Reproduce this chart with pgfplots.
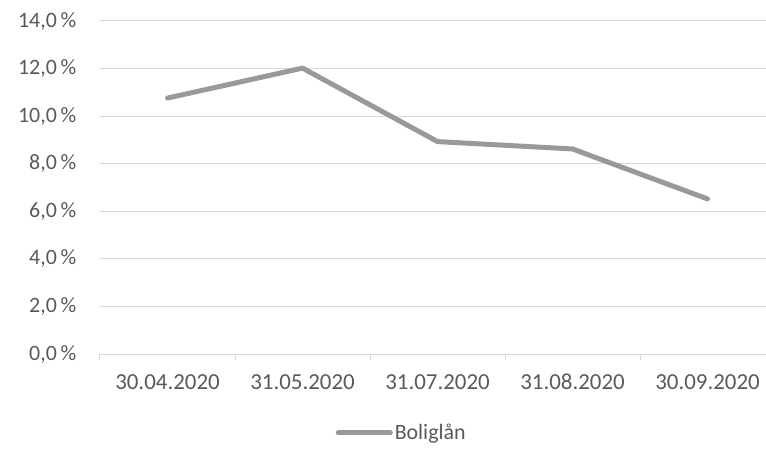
\documentclass[border=0pt]{standalone}
\usepackage{fontspec}
\setmainfont{Carlito}
\usepackage{pgfplots}
\pgfplotsset{compat=1.18}
\definecolor{txt}{HTML}{595959}
\definecolor{grd}{HTML}{D9D9D9}
\definecolor{ln}{HTML}{999999}
\begin{document}
\begin{tikzpicture}[x=1bp,y=1bp]
\path[use as bounding box] (-100bp,-95bp) rectangle (666bp,354bp);
\begin{axis}[
  at={(0,0)}, anchor=south west,
  scale only axis, width=666bp, height=333bp,
  xmin=-0.5, xmax=4.433, ymin=0, ymax=14,
  xtick={0,1,2,3,4},
  xticklabels={30.04.2020,31.05.2020,31.07.2020,31.08.2020,30.09.2020},
  minor xtick={-0.5,0.5,1.5,2.5,3.5},
  tick align=outside,
  minor tick length=6bp,
  minor x tick style={draw=grd, line width=1bp},
  major x tick style={draw=none},
  x tick label style={font=\fontsize{23}{27}\selectfont, text=txt, yshift=-12bp, text height=16bp, text depth=0pt},
  ytick={0,2,...,14},
  yticklabels={{0,0\,\%},{2,0\,\%},{4,0\,\%},{6,0\,\%},{8,0\,\%},{10,0\,\%},{12,0\,\%},{14,0\,\%}},
  y tick label style={font=\fontsize{22}{26}\selectfont, text=txt, xshift=-16bp},
  ymajorgrids, major grid style={grd, line width=1bp},
  major y tick style={draw=none},
  axis x line*=bottom,
  axis y line*=left,
  x axis line style={draw=grd, line width=1bp, -},
  y axis line style={draw=none},
  clip=false,
  legend style={at={(0.453,-0.237)}, anchor=center, draw=none, fill=none,
    font=\fontsize{22}{26}\selectfont, text=txt, legend columns=1,
    inner sep=0pt},
  legend image code/.code={\draw[#1, line cap=round] (0bp,0bp) -- (52bp,0bp);},
]
\addplot[ln, line width=5bp, line join=round, line cap=round] coordinates {
  (0,10.76) (1,12.02) (2,8.93) (3,8.62) (4,6.52)
};
\addlegendentry{Boliglån}
\end{axis}
\end{tikzpicture}
\end{document}
